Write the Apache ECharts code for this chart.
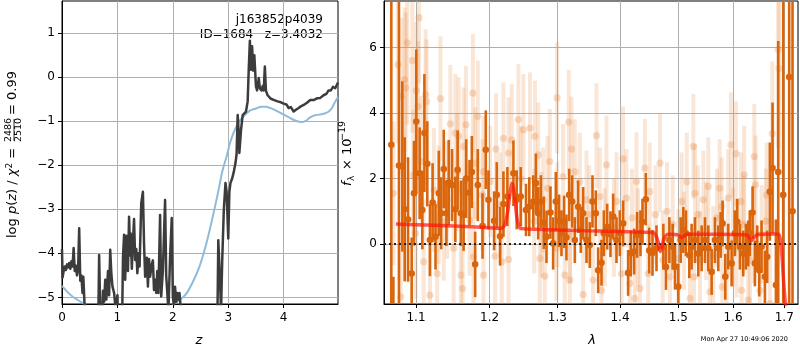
<!DOCTYPE html>
<html>
<head>
<meta charset="utf-8">
<script src="https://cdn.jsdelivr.net/npm/echarts@6/dist/echarts.min.js"></script>
<style>
html, body { margin: 0; padding: 0; background: #fff; }
#chart { width: 800px; height: 350px; }
</style>
</head>
<body>
<div id="chart"></div>
<script>
// ticks
var zTicks = [0, 1, 2, 3, 4];
var pzTicks = [-5, -4, -3, -2, -1, 0, 1];
var lamTicks = [1.1, 1.2, 1.3, 1.4, 1.5, 1.6, 1.7];
var fluxTicks = [0, 2, 4, 6];

// log p(z), noisy curve  [z, logp]
var blackPz = [
  [0.00,-3.90],[0.01,-4.55],[0.03,-4.40],[0.05,-4.30],[0.07,-4.38],[0.09,-4.25],[0.11,-4.32],[0.13,-4.22],
  [0.15,-4.35],[0.17,-4.18],[0.19,-4.30],[0.21,-3.88],[0.23,-4.40],[0.25,-4.28],[0.27,-4.50],[0.29,-4.38],
  [0.31,-3.43],[0.33,-4.62],[0.35,-4.50],[0.37,-4.90],[0.385,-4.53],[0.41,-5.25],[0.43,-6.0],
  [0.65,-6.0],[0.67,-4.04],[0.69,-5.3],[0.71,-6.0],[0.74,-4.85],[0.76,-5.1],[0.78,-4.6],[0.80,-5.05],
  [0.83,-4.4],[0.85,-4.95],[0.87,-3.92],[0.89,-4.45],[0.91,-4.75],[0.94,-4.9],[0.97,-5.3],[1.00,-4.95],[1.02,-6.0],
  [1.08,-6.0],[1.10,-4.1],[1.12,-3.58],[1.14,-4.6],[1.16,-3.6],[1.19,-4.4],[1.21,-3.17],[1.23,-4.05],
  [1.24,-3.55],[1.26,-4.35],[1.28,-3.75],[1.30,-3.22],[1.32,-4.15],[1.34,-3.9],[1.36,-4.45],[1.38,-4.0],
  [1.40,-4.3],[1.43,-2.86],[1.46,-2.6],[1.48,-3.77],[1.50,-4.53],[1.53,-4.1],[1.55,-4.75],[1.57,-4.13],
  [1.59,-4.53],[1.62,-4.25],[1.64,-4.16],[1.66,-4.83],[1.68,-4.6],[1.70,-4.9],[1.72,-4.4],[1.74,-4.9],
  [1.77,-3.13],[1.79,-4.98],[1.82,-4.4],[1.86,-2.79],[1.88,-4.5],[1.90,-4.9],[1.92,-5.3],[1.95,-4.1],
  [1.98,-3.2],[2.00,-4.98],[2.02,-5.2],[2.04,-4.76],[2.06,-5.1],[2.08,-4.9],[2.10,-5.05],[2.12,-4.9],
  [2.14,-5.2],[2.16,-6.0],
  [2.80,-6.0],[2.82,-3.7],[2.85,-4.6],[2.87,-5.3],[2.89,-4.2],[2.92,-3.0],[2.95,-2.4],[2.97,-2.6],
  [3.00,-3.66],[3.02,-2.6],[3.04,-2.4],[3.07,-2.3],[3.10,-2.15],[3.13,-1.95],[3.15,-1.75],[3.17,-0.86],
  [3.19,-1.3],[3.20,-1.72],[3.23,-1.2],[3.26,-0.86],[3.29,-0.82],[3.32,-0.78],[3.35,-0.55],[3.37,0.2],
  [3.39,0.83],[3.41,0.17],[3.43,0.7],[3.45,0.15],[3.47,0.5],[3.50,-0.21],[3.52,-0.3],[3.55,-0.02],
  [3.57,-0.25],[3.60,-0.3],[3.62,-0.2],[3.64,-0.3],[3.66,0.24],[3.68,-0.31],[3.71,-0.41],[3.77,-0.49],
  [3.83,-0.52],[3.89,-0.55],[3.95,-0.57],[4.00,-0.6],[4.05,-0.62],[4.09,-0.7],[4.13,-0.68],[4.18,-0.78],
  [4.22,-0.74],[4.27,-0.7],[4.31,-0.66],[4.36,-0.63],[4.42,-0.58],[4.48,-0.52],[4.54,-0.52],[4.60,-0.48],
  [4.66,-0.47],[4.72,-0.41],[4.77,-0.38],[4.81,-0.3],[4.85,-0.3],[4.89,-0.22],[4.93,-0.25],[4.98,-0.12]
];

// chi2 curve, smooth  [z, value]
var bluePz = [
  [0,-4.74],[0.1,-4.88],[0.2,-4.99],[0.3,-5.07],[0.4,-5.15],[0.5,-5.3],[1.0,-5.9],[1.5,-5.8],[1.9,-5.3],
  [2.0,-5.17],[2.1,-5.08],[2.24,-4.92],[2.36,-4.65],[2.48,-4.3],[2.6,-3.8],[2.72,-3.17],[2.81,-2.65],
  [2.9,-2.1],[2.97,-1.8],[3.03,-1.5],[3.1,-1.25],[3.2,-1.0],[3.3,-0.86],[3.39,-0.76],[3.5,-0.71],
  [3.6,-0.67],[3.68,-0.67],[3.8,-0.72],[3.9,-0.78],[4.02,-0.86],[4.12,-0.93],[4.22,-0.99],[4.32,-1.02],
  [4.4,-0.99],[4.47,-0.92],[4.55,-0.87],[4.64,-0.85],[4.72,-0.83],[4.8,-0.79],[4.86,-0.72],[4.91,-0.6],[4.98,-0.45]
];

// spectrum, main points  [lambda, flux, err]
var darkPts = [
  [1.0684,3.03,10],[1.0710,-2.6,1.6],[1.0781,2.4,10],[1.0824,2.37,2.6],[1.0854,1.06,2.2],[1.0897,0.75,1.9],
  [1.0944,-0.9,1.1],[1.0974,1.55,1.6],[1.1004,3.74,2.2],[1.1048,2.16,1.4],[1.1083,1.04,1.2],[1.1110,3.39,1.8],
  [1.1148,2.45,1.3],[1.1183,0.12,1.1],[1.1218,1.27,1.2],[1.1257,0.22,1.0],[1.1301,1.55,1.3],[1.1332,0.94,1.1],
  [1.1367,2.29,1.2],[1.1403,0.94,1.0],[1.1434,1.88,1.3],[1.1479,1.8,1.1],[1.1524,1.06,1.0],[1.1555,2.27,1.2],
  [1.1600,0.94,1.0],[1.1637,0.89,1.1],[1.1673,2.0,1.2],[1.1719,1.57,1.0],[1.1751,2.2,1.1],[1.1797,-0.62,1.0],
  [1.1834,1.8,1.1],[1.1900,0.55,1.0],[1.1946,2.88,1.2],[1.1984,1.35,0.9],[1.2064,0.71,0.9],[1.2102,1.5,1.0],
  [1.2150,0.24,0.9],[1.2198,1.22,1.0],[1.2255,1.45,0.9],[1.2343,2.16,1.0],[1.2391,1.35,0.9],[1.2450,1.45,0.9],
  [1.2527,1.04,0.8],[1.2576,1.14,0.9],[1.2636,1.3,0.8],[1.2675,1.86,0.9],[1.2710,0.94,0.8],[1.2750,1.3,0.8],
  [1.2794,0.65,0.8],[1.2835,0.22,0.8],[1.2895,0.96,0.8],[1.2936,0.02,0.8],[1.2977,1.3,0.9],[1.3028,0.71,0.8],
  [1.3064,0.33,0.7],[1.3105,0.68,0.8],[1.3141,0.2,0.7],[1.3183,1.5,0.8],[1.3230,1.3,0.8],[1.3272,0.12,0.7],
  [1.3324,1.14,0.8],[1.3366,0.43,0.7],[1.3403,0.94,0.8],[1.3456,0.12,0.7],[1.3509,-0.03,0.7],[1.3552,1.3,0.8],
  [1.3605,0.94,0.7],[1.3643,-0.8,0.7],[1.3697,-0.57,0.7],[1.3735,0.33,0.7],[1.3789,0.53,0.7],[1.3843,0.3,0.7],
  [1.3887,0.84,0.7],[1.3942,0.12,0.7],[1.3997,0.33,0.7],[1.4052,0.63,0.7],[1.4135,-0.88,0.7],[1.4180,-0.29,0.7],
  [1.4236,-0.23,0.7],[1.4286,0.28,0.7],[1.4343,0.33,0.7],[1.4377,0.68,0.7],[1.4434,1.37,0.8],[1.4491,-0.2,0.7],
  [1.4548,-0.27,0.7],[1.4617,-0.13,0.7],[1.4736,-0.08,0.7],[1.4782,-0.7,0.7],[1.4841,0.12,0.7],[1.4899,-0.08,0.7],
  [1.4940,-0.69,0.7],[1.4999,-1.3,0.7],[1.5040,0.12,0.7],[1.5088,0.43,0.7],[1.5135,0.33,0.7],[1.5195,-0.34,0.7],
  [1.5236,-0.08,0.7],[1.5297,0.12,0.7],[1.5357,-0.29,0.7],[1.5418,-0.13,0.7],[1.5479,0.12,0.7],[1.5540,-0.13,0.7],
  [1.5601,-0.85,0.7],[1.5663,0.12,0.7],[1.5725,-0.13,0.7],[1.5768,0.28,0.7],[1.5805,0.63,0.7],[1.5855,-1.0,0.7],
  [1.5911,-0.08,0.7],[1.5974,-0.59,0.7],[1.6037,0.33,0.7],[1.6081,0.68,0.7],[1.6132,-0.08,0.7],[1.6195,-0.29,0.7],
  [1.6246,-0.08,0.7],[1.6291,0.02,0.7],[1.6323,0.33,0.7],[1.6375,0.96,0.8],[1.6420,-0.59,0.7],[1.6465,-0.13,0.7],
  [1.6504,-0.8,0.8],[1.6549,-0.08,0.8],[1.6615,-1.0,0.8],[1.6660,-0.39,0.8],[1.6713,1.6,1.5],[1.6766,2.32,2.0],
  [1.6833,-1.25,2.0],[1.6879,2.2,4.0],[1.6979,1.5,10],[1.7099,5.1,10],[1.7167,1.0,10]
];

// spectrum, second set  [lambda, flux, err]
var lightPts = [
  [1.0710,1.55,2.2],[1.0768,5.48,2.4],[1.0803,-1.61,2.2],[1.0811,4.51,2.4],[1.0854,5.02,2.2],[1.0867,4.77,2.3],
  [1.0888,6.14,2.5],[1.0953,5.6,2.2],[1.0965,2.11,2.0],[1.0995,0.33,2.0],[1.1004,4.69,2.1],[1.1026,4.2,2.0],
  [1.1039,6.91,2.0],[1.1069,2.52,2.0],[1.1101,-0.54,1.9],[1.1126,4.56,2.0],[1.1139,4.35,1.9],[1.1183,-1.56,1.9],
  [1.1235,1.65,1.9],[1.1279,-0.9,1.8],[1.13,1.2,1.8],[1.1323,4.44,1.9],[1.1367,0.68,1.8],[1.1412,1.35,1.8],
  [1.1456,3.67,1.8],[1.1501,-0.13,1.8],[1.1524,3.39,1.8],[1.155,2.2,1.8],[1.1569,3.29,1.8],[1.1600,-0.95,1.7],
  [1.1623,-1.36,1.7],[1.1637,2.98,1.8],[1.1669,3.64,1.8],[1.1719,0.73,1.7],[1.1765,4.61,1.8],[1.1774,-0.39,1.7],
  [1.1797,2.47,1.7],[1.1834,3.9,1.7],[1.19,1.5,1.7],[1.1914,-0.95,1.6],[1.1914,2.21,1.7],[1.2007,1.91,1.7],
  [1.2078,-0.37,1.6],[1.2092,2.9,1.7],[1.215,1.2,1.6],[1.2174,-0.54,1.6],[1.2198,3.23,1.7],[1.2272,-0.47,1.6],
  [1.2272,2.78,1.7],[1.2318,3.18,1.7],[1.2416,3.8,1.7],[1.245,2.0,1.6],[1.2489,3.49,1.7],[1.2587,3.54,1.7],
  [1.2661,3.29,1.7],[1.265,0.7,1.6],[1.2710,2.72,1.6],[1.2735,-0.44,1.6],[1.276,0.6,1.6],[1.2785,1.35,1.6],
  [1.2809,-0.98,1.6],[1.285,1.7,1.6],[1.2885,2.52,1.6],[1.2987,-0.13,1.6],[1.2997,4.46,1.7],[1.30,0.9,1.6],
  [1.3090,2.06,1.6],[1.3115,-0.95,1.5],[1.3178,3.72,1.6],[1.3193,-1.1,1.5],[1.32,0.3,1.5],[1.3219,2.9,1.6],
  [1.3272,2.21,1.6],[1.335,1.9,1.5],[1.3403,-1.54,1.5],[1.35,0.9,1.5],[1.3456,1.35,1.5],[1.3562,-1.1,1.5],
  [1.3616,3.31,1.6],[1.3670,1.45,1.5],[1.3697,-1.41,1.5],[1.375,0.2,1.5],[1.3778,2.42,1.5],[1.39,0.5,1.5],
  [1.3942,1.3,1.5],[1.4025,-0.9,1.5],[1.405,2.6,1.6],[1.4107,1.4,1.5],[1.4163,-1.2,1.5],[1.42,0.8,1.5],
  [1.4247,-1.66,1.5],[1.4275,1.91,1.5],[1.43,0.2,1.5],[1.4332,-1.36,1.5],[1.4417,2.32,1.5],[1.4474,-0.9,1.5],
  [1.45,1.6,1.5],[1.46,0.9,1.5],[1.4678,2.47,1.5],[1.4725,-0.49,1.5],[1.48,1.0,1.5],[1.4852,-1.0,1.5],
  [1.49,0.6,1.5],[1.4999,-0.44,1.5],[1.5058,1.3,1.5],[1.51,0.1,1.5],[1.515,1.9,1.5],[1.5208,-1.66,1.5],
  [1.5267,2.98,1.6],[1.5279,-1.0,1.5],[1.5297,1.55,1.5],[1.535,0.9,1.5],[1.5388,-0.49,1.5],[1.5449,1.35,1.5],
  [1.55,0.4,1.5],[1.5540,1.76,1.5],[1.5570,-1.46,1.5],[1.5632,-0.34,1.5],[1.57,0.8,1.5],[1.575,1.7,1.5],
  [1.5787,1.14,1.5],[1.5799,-1.31,1.5],[1.5880,-0.9,1.5],[1.5911,1.4,1.5],[1.5961,3.03,1.6],[1.60,0.2,1.5],
  [1.6056,2.76,1.6],[1.6068,-0.13,1.5],[1.615,1.3,1.5],[1.6163,-1.41,1.5],[1.62,0.6,1.5],[1.6214,2.11,1.5],
  [1.6291,-1.71,1.5],[1.6323,-0.49,1.5],[1.64,0.3,1.5],[1.6407,2.67,1.6],[1.6433,1.81,1.5],[1.6517,-1.41,1.5],
  [1.655,0.3,1.5],[1.6635,0.7,1.6],[1.665,1.5,1.6],[1.6713,-1.82,1.8],[1.6760,3.37,2.2],[1.6879,5.94,3.0],
  [1.6893,5.36,3.0]
];

// model  [lambda, flux]
var redModel = [
  [1.0743,0.61],[1.10,0.59],[1.15,0.55],[1.20,0.5],[1.2173,0.48],[1.222,0.6],[1.2255,0.94],[1.2290,1.5],
  [1.2317,1.86],[1.2340,1.75],[1.2360,1.45],[1.2385,0.95],[1.2410,0.63],[1.2450,0.48],[1.27,0.45],
  [1.30,0.43],[1.335,0.41],[1.40,0.38],[1.456,0.35],[1.460,0.28],[1.464,0.1],[1.468,-0.23],[1.471,-0.1],
  [1.474,0.12],[1.478,0.26],[1.482,0.3],[1.495,0.29],[1.500,0.27],[1.505,0.2],[1.510,0.24],[1.515,0.3],
  [1.55,0.3],[1.60,0.29],[1.626,0.28],[1.631,0.2],[1.635,0.1],[1.640,0.2],[1.645,0.27],[1.65,0.3],
  [1.68,0.31],[1.689,0.3],[1.692,0.15],[1.694,-0.1],[1.696,-0.5],[1.699,-1.2],[1.702,-1.8],[1.704,-2.2]
];

var font = 'DejaVu Sans';
var darkCol = '#d9650c';

function minusFmt(v) {
    return v < 0 ? '\u2212' + Math.abs(v) : String(v);
}

function errRender(barColor, barWidth, dotColor, dotR) {
    return function (params, api) {
        var x = api.value(0), y = api.value(1), e = api.value(2);
        var hi = api.coord([x, y + e]);
        var lo = api.coord([x, y - e]);
        var c = api.coord([x, y]);
        return {
            type: 'group',
            children: [
                { type: 'line', shape: { x1: hi[0], y1: hi[1], x2: lo[0], y2: lo[1] },
                  style: { stroke: barColor, lineWidth: barWidth } },
                { type: 'circle', shape: { cx: c[0], cy: c[1], r: dotR },
                  style: { fill: dotColor } }
            ]
        };
    };
}

function toLn(arr) {
    return arr.map(function (p) { return [Math.log(p[0])].concat(p.slice(1)); });
}

var axisText = { color: '#000', fontFamily: font, fontSize: 12 };
var gridLine = { show: true, lineStyle: { color: '#b0b0b0', width: 1 } };
var tickStyle = { lineStyle: { color: '#000', width: 1 }, length: 4 };

var myChart = echarts.init(document.getElementById('chart'));
var option = {
    animation: false,
    backgroundColor: '#fff',
    grid: [
        { left: 62, top: 1, width: 276, height: 303, show: true, borderColor: '#000', borderWidth: 1 },
        { left: 384, top: 1, width: 414, height: 303, show: true, borderColor: '#000', borderWidth: 1 }
    ],
    xAxis: [
        {
            type: 'value', gridIndex: 0, min: 0, max: 4.98,
            axisLine: { show: true, onZero: false, lineStyle: { color: '#000' } },
            axisTick: Object.assign({ customValues: zTicks }, tickStyle),
            axisLabel: Object.assign({ customValues: zTicks, margin: 8 }, axisText),
            splitLine: gridLine
        },
        {
            type: 'value', gridIndex: 1, min: Math.log(1.0592), max: Math.log(1.7278),
            axisLine: { show: true, onZero: false, lineStyle: { color: '#000' } },
            axisTick: Object.assign({ customValues: lamTicks.map(Math.log) }, tickStyle),
            axisLabel: Object.assign({
                customValues: lamTicks.map(Math.log), margin: 8,
                formatter: function (v) { return Math.exp(v).toFixed(1); }
            }, axisText),
            splitLine: gridLine
        }
    ],
    yAxis: [
        {
            type: 'value', gridIndex: 0, min: -5.15, max: 1.73,
            axisLine: { show: true, onZero: false, lineStyle: { color: '#000' } },
            axisTick: Object.assign({ customValues: pzTicks }, tickStyle),
            axisLabel: Object.assign({ customValues: pzTicks, margin: 7, formatter: minusFmt }, axisText),
            splitLine: gridLine
        },
        {
            type: 'value', gridIndex: 1, min: -1.83, max: 7.42,
            axisLine: { show: true, onZero: false, lineStyle: { color: '#000' } },
            axisTick: Object.assign({ customValues: fluxTicks }, tickStyle),
            axisLabel: Object.assign({ customValues: fluxTicks, margin: 7, formatter: minusFmt }, axisText),
            splitLine: gridLine
        }
    ],
    series: [
        {
            type: 'line', xAxisIndex: 0, yAxisIndex: 0, data: bluePz, showSymbol: false,
            smooth: 0.3, clip: true,
            lineStyle: { color: '#8fbbd9', width: 2 }
        },
        {
            type: 'line', xAxisIndex: 0, yAxisIndex: 0, data: blackPz, showSymbol: false,
            clip: true,
            lineStyle: { color: '#3c3c3c', width: 2.5, join: 'round' }
        },
        {
            type: 'custom', xAxisIndex: 1, yAxisIndex: 1, clip: true,
            renderItem: errRender('rgba(232,140,70,0.22)', 4, 'rgba(232,140,70,0.3)', 3.6),
            data: toLn(lightPts)
        },
        {
            type: 'custom', xAxisIndex: 1, yAxisIndex: 1, clip: true,
            renderItem: errRender(darkCol, 2.6, darkCol, 3.3),
            data: toLn(darkPts)
        },
        {
            type: 'line', xAxisIndex: 1, yAxisIndex: 1, data: toLn(redModel), showSymbol: false,
            clip: true, smooth: 0.2,
            lineStyle: { color: 'rgba(255,20,10,0.7)', width: 3.5 },
            markLine: {
                silent: true, symbol: 'none', label: { show: false },
                lineStyle: { color: '#222', width: 2, type: [2, 3] },
                data: [{ yAxis: 0 }]
            },
            z: 5
        }
    ],
    graphic: [
        { type: 'text', x: 323, y: 20, style: { text: 'j163852p4039', fill: '#000', font: '12px "DejaVu Sans"', align: 'right', verticalAlign: 'middle' } },
        { type: 'text', x: 323, y: 35, style: { text: 'ID=1684   z=3.4032', fill: '#000', font: '12px "DejaVu Sans"', align: 'right', verticalAlign: 'middle' } },
        { type: 'text', x: 199, y: 341, style: { text: 'z', fill: '#000', font: 'italic 13px "DejaVu Sans"', align: 'center', verticalAlign: 'middle' } },
        { type: 'text', x: 592, y: 341, style: { text: '\u03bb', fill: '#000', font: 'italic 13px "DejaVu Sans"', align: 'center', verticalAlign: 'middle' } },
        { type: 'text', x: 788, y: 339, style: { text: 'Mon Apr 27 10:49:06 2020', fill: '#000', font: '6.5px "DejaVu Sans"', align: 'right', verticalAlign: 'middle' } },
        {
            type: 'group', x: 13, y: 238, rotation: Math.PI / 2,
            children: [
                { type: 'text', x: 0, y: 0, style: {
                    text: '{n|log }{i|p}{n|(}{i|z}{n|) / }{i|\u03c7}{s|2}{n| =}',
                    verticalAlign: 'middle', align: 'left',
                    rich: {
                        n: { font: '13px "DejaVu Sans"', fill: '#000' },
                        i: { font: 'italic 13px "DejaVu Sans"', fill: '#000' },
                        s: { font: '9px "DejaVu Sans"', fill: '#000', padding: [0, 0, 7, 0] }
                    }
                } },
                { type: 'text', x: 108, y: -4, style: { text: '2486', font: '9.5px "DejaVu Sans"', fill: '#000', align: 'center', verticalAlign: 'middle' } },
                { type: 'line', shape: { x1: 97, y1: 1, x2: 119, y2: 1 }, style: { stroke: '#000', lineWidth: 0.8 } },
                { type: 'text', x: 108, y: 6, style: { text: '2510', font: '9.5px "DejaVu Sans"', fill: '#000', align: 'center', verticalAlign: 'middle' } },
                { type: 'text', x: 123, y: 0, style: { text: '= 0.99', font: '13px "DejaVu Sans"', fill: '#000', align: 'left', verticalAlign: 'middle' } }
            ]
        },
        {
            type: 'group', x: 348, y: 186, rotation: Math.PI / 2,
            children: [
                { type: 'text', x: 0, y: 0, style: { text: 'f', font: 'italic 13px "DejaVu Sans"', fill: '#000', align: 'left', verticalAlign: 'middle' } },
                { type: 'text', x: 5, y: 4, style: { text: '\u03bb', font: '9px "DejaVu Sans"', fill: '#000', align: 'left', verticalAlign: 'middle' } },
                { type: 'text', x: 16, y: 0, style: { text: '\u00d7 10', font: '13px "DejaVu Sans"', fill: '#000', align: 'left', verticalAlign: 'middle' } },
                { type: 'text', x: 45, y: -5, style: { text: '\u221219', font: '9.5px "DejaVu Sans"', fill: '#000', align: 'left', verticalAlign: 'middle' } }
            ]
        }
    ]
};
myChart.setOption(option);
</script>
</body>
</html>
